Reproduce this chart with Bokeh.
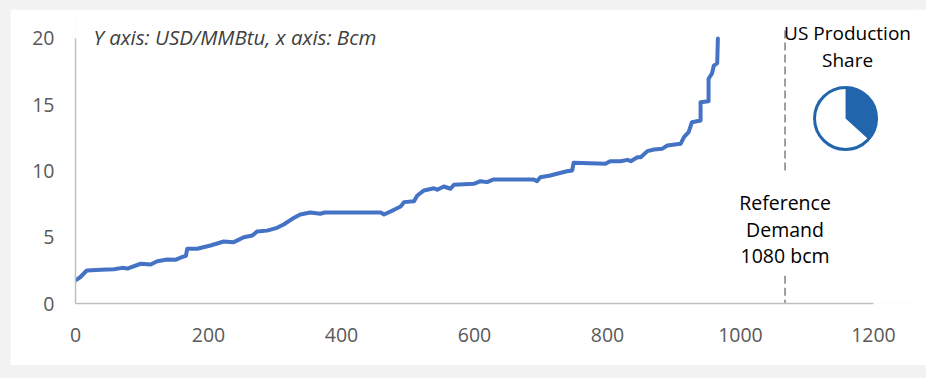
import math
from bokeh.plotting import figure
from bokeh.models import Range1d, FixedTicker, Label
from bokeh.layouts import column
from bokeh.embed import file_html
from bokeh.resources import INLINE

# ---- data ----
supply_x = [0, 7, 17, 38, 58, 70, 78, 98, 113, 123, 138, 150, 160, 166, 168, 183,
            203, 223, 238, 253, 266, 273, 288, 303, 313, 326, 338, 353, 368, 375,
            459, 464, 479, 489, 494, 509, 514, 524, 539, 544, 554, 564, 569, 599,
            609, 619, 629, 689, 694, 699, 714, 724, 739, 747, 749, 797, 804, 820,
            830, 835, 845, 850, 860, 870, 882, 890, 910, 915, 922, 927, 940, 940,
            952, 952, 957, 960, 965, 966]
supply_y = [1.75, 1.98, 2.49, 2.54, 2.59, 2.69, 2.64, 3.0, 2.94, 3.19, 3.32, 3.3, 3.5, 3.6, 4.13, 4.13,
            4.38, 4.68, 4.63, 5.0, 5.13, 5.43, 5.5, 5.71, 5.96, 6.39, 6.72, 6.87, 6.77, 6.87,
            6.87, 6.72, 7.07, 7.32, 7.65, 7.72, 8.15, 8.53, 8.7, 8.58, 8.83, 8.66, 8.96, 9.03,
            9.23, 9.16, 9.36, 9.36, 9.23, 9.53, 9.66, 9.79, 9.98, 10.04, 10.62, 10.54, 10.74, 10.74,
            10.84, 10.74, 11.04, 11.04, 11.5, 11.62, 11.67, 11.92, 12.05, 12.55, 12.93, 13.68, 13.81, 15.19,
            15.27, 16.96, 17.34, 17.96, 18.14, 20.0]
x_ticks = [0, 200, 400, 600, 800, 1000, 1200]
y_ticks = [0, 5, 10, 15, 20]
ref_demand_x = 1067
ref_demand_label = ["Reference", "Demand", "1080 bcm"]
us_share = 0.367
axis_note = "Y axis: USD/MMBtu, x axis: Bcm"

FONT = "Open Sans"
BLUE = "#4472c4"
PIE_BLUE = "#2165ad"

p = figure(width=916, height=356, output_backend="svg", toolbar_location=None,
           x_range=Range1d(0, 1267.7), y_range=Range1d(0, 21.96),
           min_border_left=65, min_border_right=8, min_border_top=3, min_border_bottom=62,
           margin=(9, 0, 13, 10))
p.outline_line_color = None
p.border_fill_color = "white"
p.background_fill_color = "white"
p.grid.visible = False

for ax, ticks in ((p.xaxis[0], x_ticks), (p.yaxis[0], y_ticks)):
    ax.ticker = FixedTicker(ticks=ticks)
    ax.major_tick_line_color = None
    ax.minor_tick_line_color = None
    ax.major_tick_out = 0
    ax.major_tick_in = 0
    ax.axis_line_color = "#bfbfbf"
    ax.axis_line_width = 1.5
    ax.major_label_text_font = FONT
    ax.major_label_text_font_size = "19.5px"
    ax.major_label_text_color = "#595959"
p.xaxis[0].bounds = (0, 1200)
p.yaxis[0].bounds = (0, 20)
p.xaxis[0].major_label_standoff = 24
p.yaxis[0].major_label_standoff = 21

# reference demand dashed line (gap for the label)
p.segment(x0=[ref_demand_x, ref_demand_x], y0=[20.6, 2.1], x1=[ref_demand_x, ref_demand_x], y1=[9.8, 0],
          line_color="#7f7f7f", line_width=1.5, line_dash="8 4")

# supply curve
p.line(supply_x, supply_y, line_color=BLUE, line_width=4, line_join="round", line_cap="round")

# pie of US production share
pie_x, pie_y = 1158, 13.96
p.scatter(x=[pie_x], y=[pie_y], marker="circle", size=62, fill_color="white",
          line_color=PIE_BLUE, line_width=3)
p.wedge(x=[pie_x], y=[pie_y], radius=30, radius_units="screen",
        start_angle=math.pi / 2 - us_share * 2 * math.pi, end_angle=math.pi / 2,
        direction="anticlock", fill_color=PIE_BLUE, line_color=None)

# texts
for i, t in enumerate(ref_demand_label):
    p.add_layout(Label(x=ref_demand_x, y=7.62 - i * 2.0, text=t, text_align="center",
                       text_baseline="middle", text_font=FONT, text_font_size="19.5px",
                       text_color="#000000"))
for i, t in enumerate(["US Production", "Share"]):
    p.add_layout(Label(x=1161, y=20.38 - i * 2.04, text=t, text_align="center",
                       text_baseline="middle", text_font=FONT, text_font_size="19px",
                       text_color="#000000"))
p.add_layout(Label(x=27, y=20.08, text=axis_note, text_align="left", text_baseline="middle",
                   text_font=FONT, text_font_size="20.5px", text_font_style="italic",
                   text_color="#404040"))

layout = column(p, styles={"background-color": "#f2f2f2"}, width=926, height=378)
open("out.html", "w").write(file_html(layout, INLINE))
